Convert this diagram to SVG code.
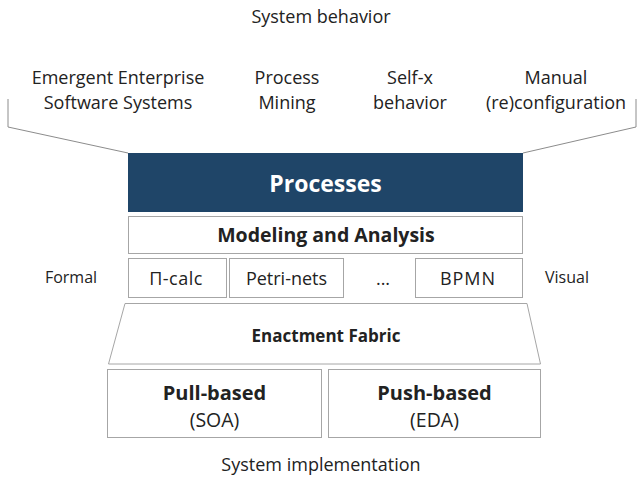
<svg xmlns="http://www.w3.org/2000/svg" width="643" height="490" viewBox="0 0 643 490">
  <style>
    text { font-family: "Open Sans", "Noto Sans", "Liberation Sans", sans-serif; fill: #222; text-anchor: middle; }
    .lbl { font-size: 18px; }
    .side { font-size: 16px; }
    .cell { font-size: 18px; }
    .b { font-weight: bold; }
    .box { fill: #fff; stroke: #a6a6a6; stroke-width: 1; }
    .rim { fill: none; stroke: #8c8c8c; stroke-width: 1; }
  </style>
  <rect width="643" height="490" fill="#fff"/>

  <text class="lbl" x="321" y="23">System behavior</text>

  <g id="topics">
    <text class="lbl" x="118" y="84">Emergent Enterprise</text>
    <text class="lbl" x="118" y="109">Software Systems</text>
    <text class="lbl" x="287" y="84">Process</text>
    <text class="lbl" x="287" y="109">Mining</text>
    <text class="lbl" x="410" y="84">Self-x</text>
    <text class="lbl" x="410" y="109">behavior</text>
    <text class="lbl" x="556" y="84">Manual</text>
    <text class="lbl" x="556" y="109">(re)configuration</text>
  </g>

  <g id="connectors">
    <polyline class="rim" points="8,99 8,127 128,153"/>
    <polyline class="rim" points="636,99 636,127 523,153"/>
  </g>

  <g id="processes">
    <rect x="128" y="153" width="395" height="59" fill="#1f4568"/>
    <text x="325.5" y="192" font-size="23" class="b" style="fill:#fff">Processes</text>
  </g>

  <g id="modeling">
    <rect class="box" x="128.5" y="216.5" width="394" height="37"/>
    <text class="b" x="326" y="242" font-size="19.5">Modeling and Analysis</text>
  </g>

  <g id="formalisms">
    <rect class="box" x="128.5" y="258.5" width="98" height="39"/>
    <text class="cell" x="176" y="284.5" letter-spacing="0.5">Π-calc</text>
    <rect class="box" x="229.5" y="258.5" width="114" height="39"/>
    <text class="cell" x="286.5" y="284.5">Petri-nets</text>
    <text class="cell" x="383" y="284.5">...</text>
    <rect class="box" x="415.5" y="258.5" width="107" height="39"/>
    <text class="cell" x="468" y="284.5" letter-spacing="1">BPMN</text>
  </g>

  <text class="side" x="71" y="283">Formal</text>
  <text class="side" x="567" y="283">Visual</text>

  <g id="enactment">
    <polygon class="box" points="125,303.5 527,303.5 540.5,364 108.5,364"/>
    <text class="b" x="326" y="342" font-size="17">Enactment Fabric</text>
  </g>

  <g id="pull">
    <rect class="box" x="107.5" y="369.5" width="214" height="68"/>
    <text class="b" x="214.5" y="400" font-size="20">Pull-based</text>
    <text x="214.5" y="427" font-size="19.5">(SOA)</text>
  </g>

  <g id="push">
    <rect class="box" x="328.5" y="369.5" width="212" height="68"/>
    <text class="b" x="434.5" y="400" font-size="20">Push-based</text>
    <text x="434.5" y="427" font-size="19.5">(EDA)</text>
  </g>

  <text class="lbl" x="321" y="471">System implementation</text>
</svg>
